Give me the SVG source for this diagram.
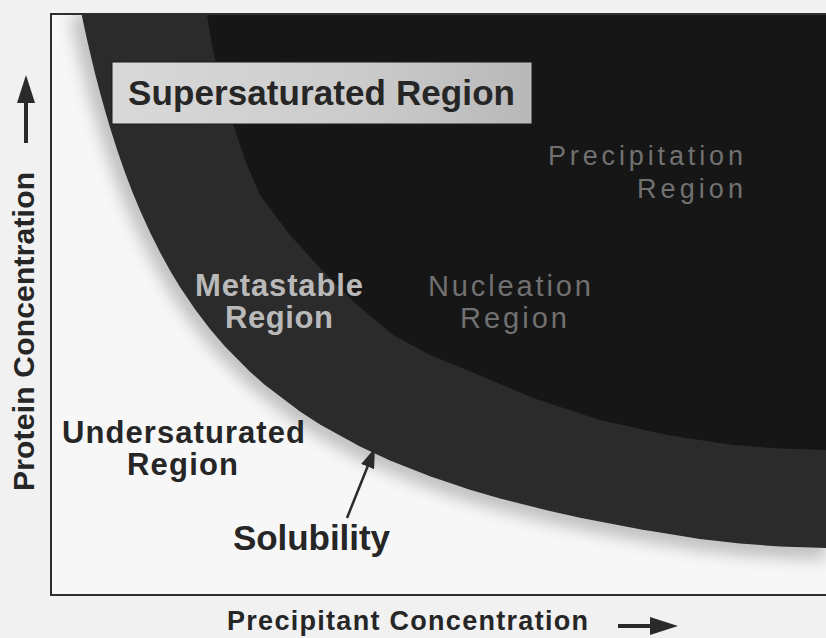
<svg xmlns="http://www.w3.org/2000/svg" width="826" height="638" viewBox="0 0 826 638">
  <style>
    text { font-family: "Liberation Sans", Arial, sans-serif; }
    .bold { font-weight: bold; fill: #262626; }
    .meta { font-weight: bold; fill: #b9b9b9; }
    .dim { fill: #717171; }
    .axis { stroke: #2a2a2a; stroke-width: 4; fill: none; }
    .pointer { stroke: #2a2a2a; stroke-width: 2.5; fill: none; }
  </style>
  <defs>
    <linearGradient id="boxGrad" x1="0" y1="0" x2="1" y2="0">
      <stop offset="0" stop-color="#d9d9d9"/>
      <stop offset="0.6" stop-color="#cbcbcb"/>
      <stop offset="1" stop-color="#b8b8b8"/>
    </linearGradient>
    <filter id="blur" x="-20%" y="-20%" width="140%" height="140%">
      <feGaussianBlur stdDeviation="8"/>
    </filter>
    <clipPath id="frameClip">
      <rect x="51" y="14" width="775" height="581"/>
    </clipPath>
    <marker id="axisHead" markerUnits="userSpaceOnUse" viewBox="0 0 30 20" markerWidth="30" markerHeight="20" refX="8" refY="10" orient="auto">
      <path d="M0,1 L28,10 L0,19 Z" fill="#2a2a2a"/>
    </marker>
    <marker id="solHead" markerUnits="userSpaceOnUse" viewBox="0 0 22 14" markerWidth="22" markerHeight="14" refX="6" refY="7" orient="auto">
      <path d="M0,0 L20,7 L0,14 Z" fill="#2a2a2a"/>
    </marker>
  </defs>

  <!-- background -->
  <rect x="0" y="0" width="826" height="638" fill="#f1f1f1"/>
  <rect x="51" y="14" width="775" height="581" fill="#f7f7f7"/>

  <!-- regions -->
  <g id="undersaturated-halo" clip-path="url(#frameClip)">
    <path d="M81.5,14 L86,35 L90,52.6 L95,73.3 L100,92.6 L105,110.6 L110,127.5 L118,152.5 L125,172.5 L132,190.9 L140,210.3 L150,232.3 L160,252.3 L170,270.4 L180,287 L195,309.2 L210,329 L225,346.5 L250,371.8 L265,385.1 L300,411.6 L320,424.6 L360,446.6 L390,460.5 L430,476.3 L470,489.7 L500,498.4 L550,511.1 L580,517.7 L640,529.2 L700,538.9 L740,543.5 L780,546.5 L826,548" fill="none" stroke="#bdbdbd" stroke-width="22" filter="url(#blur)"/>
  </g>

  <g id="metastable-zone">
    <path d="M81.5,14 L86,35 L90,52.6 L95,73.3 L100,92.6 L105,110.6 L110,127.5 L118,152.5 L125,172.5 L132,190.9 L140,210.3 L150,232.3 L160,252.3 L170,270.4 L180,287 L195,309.2 L210,329 L225,346.5 L250,371.8 L265,385.1 L300,411.6 L320,424.6 L360,446.6 L390,460.5 L430,476.3 L470,489.7 L500,498.4 L550,511.1 L580,517.7 L640,529.2 L700,538.9 L740,543.5 L780,546.5 L826,548 L826,14 Z" fill="#2b2b2b"/>
  </g>

  <g id="labile-zone">
    <path d="M207,14 L209,28 L212,45 L217,68 L224,95 L233,124 L245,160 L260,195 L290,235 L320,268 L355,303 L393,335 L430,355 L467,370 L533,398 L600,420 L667,435 L733,445 L780,448.5 L826,450 L826,14 Z" fill="#161616"/>
  </g>

  <!-- frame -->
  <g id="frame" fill="none" stroke="#2e2e2e" stroke-width="2">
    <line x1="51" y1="14" x2="826" y2="14"/>
    <line x1="51" y1="13" x2="51" y2="596"/>
    <line x1="50" y1="595" x2="826" y2="595"/>
  </g>

  <!-- labels -->
  <g id="supersaturated">
    <rect x="112" y="62" width="420" height="62" fill="url(#boxGrad)" stroke="#1a1a1a" stroke-width="1"/>
    <text class="bold" x="128" y="105" font-size="35" textLength="387">Supersaturated Region</text>
  </g>

  <g id="precipitation">
    <text class="dim" x="548" y="165" font-size="27" textLength="195">Precipitation</text>
    <text class="dim" x="637" y="198" font-size="27" textLength="106">Region</text>
  </g>

  <g id="metastable">
    <text class="meta" x="195" y="296" font-size="31" textLength="168">Metastable</text>
    <text class="meta" x="225" y="328" font-size="31" textLength="108">Region</text>
  </g>

  <g id="nucleation">
    <text class="dim" x="428" y="296" font-size="29" textLength="163">Nucleation</text>
    <text class="dim" x="460" y="328" font-size="29" textLength="107">Region</text>
  </g>

  <g id="undersaturated">
    <text class="bold" x="62" y="443" font-size="31" textLength="243">Undersaturated</text>
    <text class="bold" x="127" y="475" font-size="31" textLength="111">Region</text>
  </g>

  <g id="solubility">
    <text class="bold" x="233" y="550" font-size="35" textLength="157">Solubility</text>
  </g>

  <g id="y-axis-label">
    <text class="bold" x="34" y="491" font-size="30" textLength="319" transform="rotate(-90 34 491)">Protein Concentration</text>
  </g>

  <g id="x-axis-label">
    <text class="bold" x="227" y="630" font-size="27" textLength="361">Precipitant Concentration</text>
  </g>

  <!-- connectors -->
  <g id="connectors">
    <line class="axis" x1="26" y1="143" x2="26" y2="95" marker-end="url(#axisHead)"/>
    <line class="axis" x1="618" y1="626" x2="658" y2="626" marker-end="url(#axisHead)"/>
    <line class="pointer" x1="347" y1="518" x2="369.8" y2="461" marker-end="url(#solHead)"/>
  </g>
</svg>
